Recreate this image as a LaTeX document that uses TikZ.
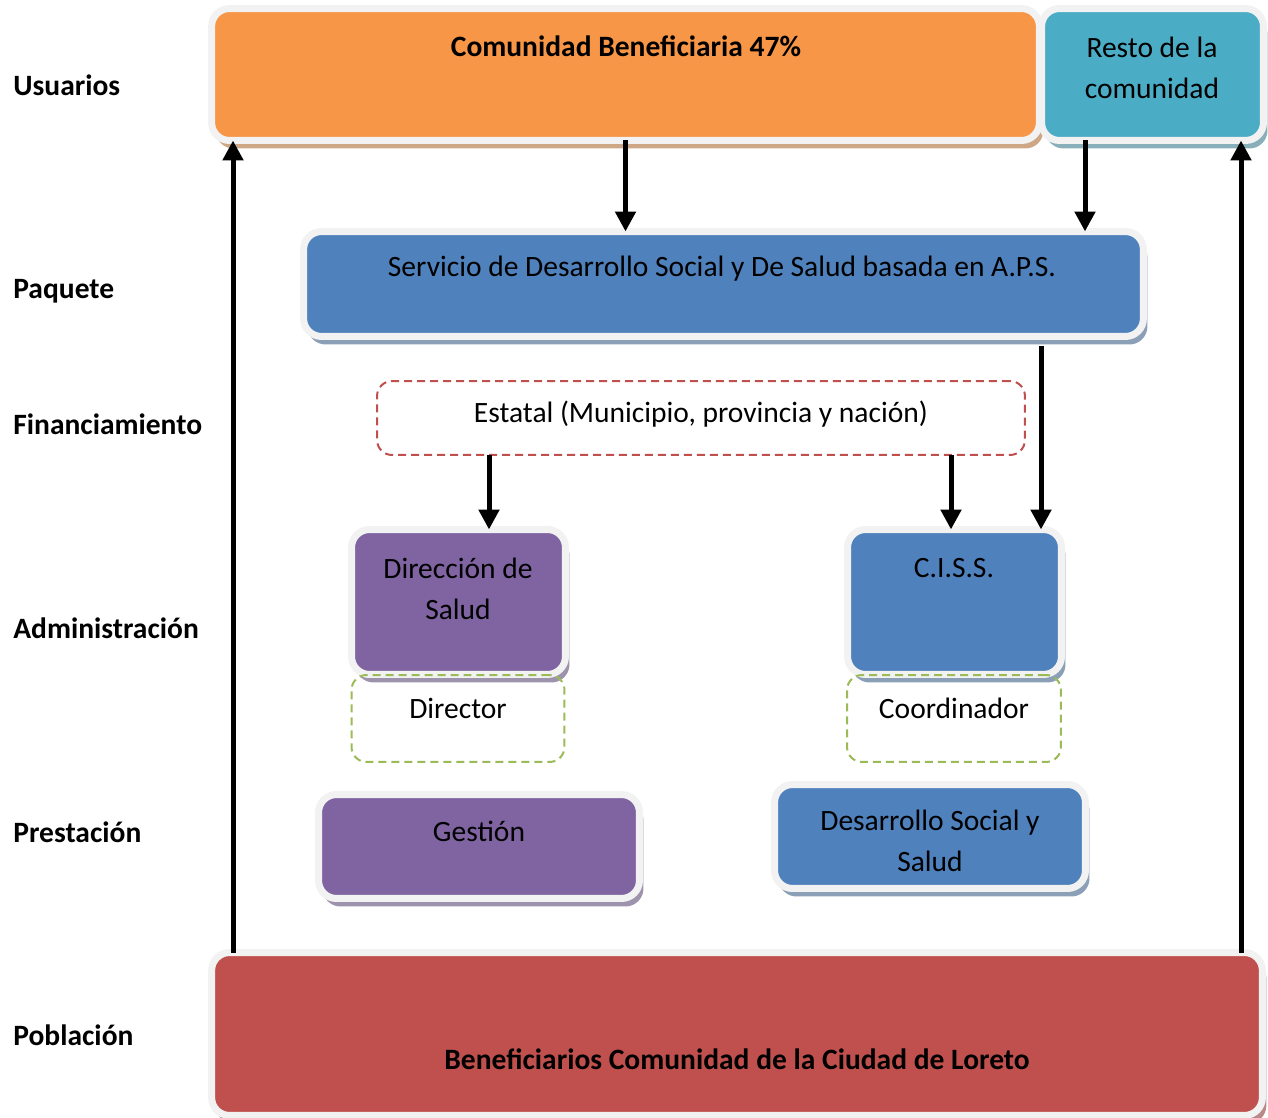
\documentclass[tikz,border=0pt]{standalone}
\usepackage{fontspec}
\setmainfont{Carlito}
\usepackage{xcolor}
\usepackage{tikz}
\usetikzlibrary{positioning,arrows.meta,shadows}
\definecolor{orangeF}{HTML}{F79646}
\definecolor{tealF}{HTML}{4BACC6}
\definecolor{blueF}{HTML}{4F81BD}
\definecolor{purpleF}{HTML}{8064A2}
\definecolor{redF}{HTML}{C0504D}
\definecolor{greenL}{HTML}{9BBB59}
\definecolor{rim}{HTML}{F2F2F2}
\definecolor{shd}{gray}{0.7}

\begin{document}
\begin{tikzpicture}[
  x=0.02cm, y=-0.02cm,
  font=\fontsize{16.8}{23}\selectfont,
  cbox/.style={draw=rim,line width=0.14cm,rounded corners=0.36cm,fill=#1,inner sep=0pt,outer sep=0pt,
    drop shadow={shadow xshift=0.08cm,shadow yshift=-0.16cm,fill=#1!40!shd,opacity=1}},
  dbox/.style={draw=#1,line width=0.04cm,dash pattern=on 0.16cm off 0.1cm,rounded corners=0.3cm,inner sep=0pt,outer sep=0pt},
  txt/.style={align=center,inner sep=0pt},
  btxt/.style={txt,font=\fontsize{16.8}{23}\selectfont\bfseries},
  lvl/.style={anchor=base west,inner sep=0pt,font=\fontsize{16.8}{23}\selectfont\bfseries},
  arr/.style={line width=0.1cm,-{Triangle[length=0.4cm,width=0.4cm]}}
]
  \useasboundingbox (0,0) rectangle (1268,1118);

  % filled boxes
  \node[cbox=orangeF,minimum width=16.56cm,minimum height=2.64cm] (benef) at (625.5,74.5) {};
  \node[cbox=tealF,minimum width=4.44cm,minimum height=2.64cm] (resto) at (1152.5,74.5) {};
  \node[cbox=blueF,minimum width=16.8cm,minimum height=2.1cm] (servicio) at (723.5,284) {};
  \node[cbox=purpleF,minimum width=4.28cm,minimum height=2.9cm] (direccion) at (458.5,602) {};
  \node[cbox=blueF,minimum width=4.28cm,minimum height=2.9cm] (ciss) at (954.5,602) {};
  \node[cbox=purpleF,minimum width=6.42cm,minimum height=2.08cm] (gestion) at (479,846.5) {};
  \node[cbox=blueF,minimum width=6.22cm,minimum height=2.08cm] (desarrollo) at (930,836.5) {};
  \node[cbox=redF,minimum width=21.02cm,minimum height=3.26cm] (poblacion) at (737,1034) {};

  % dashed boxes
  \node[dbox=redF,minimum width=12.96cm,minimum height=1.48cm] (fin) at (701,418) {};
  \node[dbox=greenL,minimum width=4.26cm,minimum height=1.74cm] (director) at (458,718.5) {};
  \node[dbox=greenL,minimum width=4.28cm,minimum height=1.74cm] (coord) at (954,718.5) {};

  % texts
  \node[btxt,anchor=base] (benefT) at (626,57) {Comunidad Beneficiaria 47\%};
  \node[txt] (restoT) at (1152,68) {Resto de la\\comunidad};
  \node[txt,anchor=base] (servicioT) at (722,277) {Servicio de Desarrollo Social y De Salud basada en A.P.S.};
  \node[txt,anchor=base] (finT) at (701,423) {Estatal (Municipio, provincia y nación)};
  \node[txt] (direccionT) at (458,589) {Dirección de\\Salud};
  \node[txt,anchor=base] (directorT) at (458,718) {Director};
  \node[txt,anchor=base] (cissT) at (954,577) {C.I.S.S.};
  \node[txt,anchor=base] (coordT) at (954,718) {Coordinador};
  \node[txt,anchor=base] (gestionT) at (479,841) {Gestión};
  \node[txt] (desarrolloT) at (930,841) {Desarrollo Social y\\Salud};
  \node[btxt,anchor=base] (poblacionT) at (737,1069) {Beneficiarios Comunidad de la Ciudad de Loreto};

  % levels
  \node[lvl] (lUsuarios) at (13,96) {Usuarios};
  \node[lvl] (lPaquete) at (13,299) {Paquete};
  \node[lvl] (lFinanc) at (13,435) {Financiamiento};
  \node[lvl] (lAdmin) at (13,638) {Administración};
  \node[lvl] (lPrest) at (13,842) {Prestación};
  \node[lvl] (lPobl) at (13,1045) {Población};

  % arrows
  \coordinate (xResto) at (1085,0);
  \coordinate (xCiss) at (1041,0);
  \coordinate (xDir) at (489,0);
  \coordinate (xFin) at (951,0);
  \coordinate (xLeft) at (233,0);
  \coordinate (xRight) at (1241,0);
  \draw[arr] (benef.south) -- (benef.south |- servicio.north);
  \draw[arr] (resto.south -| xResto) -- (servicio.north -| xResto);
  \draw[arr,shorten <=0.2cm] (servicio.south -| xCiss) -- (ciss.north -| xCiss);
  \draw[arr] (fin.south -| xDir) -- (direccion.north -| xDir);
  \draw[arr] (fin.south -| xFin) -- (ciss.north -| xFin);
  \draw[arr] (poblacion.north -| xLeft) -- (benef.south -| xLeft);
  \draw[arr] (poblacion.north -| xRight) -- (resto.south -| xRight);
\end{tikzpicture}
\end{document}
